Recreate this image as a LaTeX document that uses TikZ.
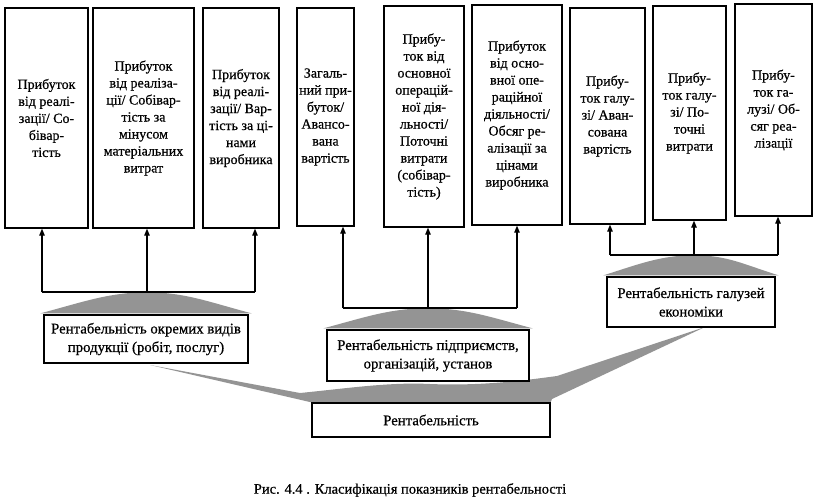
\documentclass[tikz,border=0pt]{standalone}
\usepackage{fontspec}
\setmainfont{Liberation Serif}
\newfontface\heavyface[FakeBold=0.6]{Liberation Serif}
\usetikzlibrary{arrows.meta,backgrounds}
\begin{document}
\begin{tikzpicture}[x=1pt,y=-1pt,
  tbox/.style={draw, line width=1.3pt, fill=white, inner sep=0pt, align=center,
    font=\heavyface\fontsize{14}{17}\selectfont},
  mbox/.style={draw, line width=1.3pt, fill=white, inner sep=0pt, align=center,
    font=\heavyface\fontsize{14.8}{18.5}\selectfont},
  conn/.style={line width=1.1pt},
  arr/.style={line width=1.1pt, -{Triangle[length=7pt,width=5.5pt]}},
  shadefill/.style={fill=black!42, draw=none}]
\useasboundingbox (0,0) rectangle (819,501);

% top boxes
\node[tbox, minimum width=83pt, minimum height=220pt] (b1) at (46.5,118)
  {Прибуток\\від реалі-\\зації/ Со-\\бівар-\\тість};
\node[tbox, minimum width=101pt, minimum height=220pt] (b2) at (143.5,118)
  {Прибуток\\від реаліза-\\ції/ Собівар-\\тість за\\мінусом\\матеріальних\\витрат};
\node[tbox, minimum width=76pt, minimum height=220pt] (b3) at (241,118)
  {Прибуток\\від реалі-\\зації/ Вар-\\тість за ці-\\нами\\виробника};
\node[tbox, minimum width=57pt, minimum height=218pt] (b4) at (325.5,117)
  {Загаль-\\ний при-\\буток/\\Авансо-\\вана\\вартість};
\node[tbox, minimum width=80pt, minimum height=221pt] (b5) at (424,116.5)
  {Прибу-\\ток від\\основної\\операцій-\\ної дія-\\льності/\\Поточні\\витрати\\(собівар-\\тість)};
\node[tbox, minimum width=90pt, minimum height=220pt] (b6) at (517,115)
  {Прибуток\\від осно-\\вної опе-\\раційної\\діяльності/\\Обсяг ре-\\алізації за\\цінами\\виробника};
\node[tbox, minimum width=75pt, minimum height=216pt] (b7) at (607.5,116)
  {Прибу-\\ток галу-\\зі/ Аван-\\сована\\вартість};
\node[tbox, minimum width=73pt, minimum height=214pt] (b8) at (689.5,113)
  {Прибу-\\ток галу-\\зі/ По-\\точні\\витрати};
\node[tbox, minimum width=77pt, minimum height=212pt] (b9) at (773.5,110)
  {Прибу-\\ток га-\\лузі/ Об-\\сяг реа-\\лізації};

% middle boxes
\node[mbox, minimum width=204pt, minimum height=48pt] (m1) at (146,339)
  {Рентабельність окремих видів\\продукції (робіт, послуг)};
\node[mbox, minimum width=202pt, minimum height=51pt] (m2) at (428,355.5)
  {Рентабельність підприємств,\\організацій, установ};
\node[mbox, minimum width=168pt, minimum height=50pt] (m3) at (691,302)
  {Рентабельність галузей\\економіки};
\node[mbox, minimum width=238pt, minimum height=34pt] (m0) at (431,420)
  {Рентабельність};

% junction coordinates
\coordinate (a1) at (42,292);
\coordinate (a2) at (147,292);
\coordinate (a3) at (255,292);
\coordinate (a4) at (343,308);
\coordinate (a5) at (428,308);
\coordinate (a6) at (517,308);
\coordinate (a7) at (610,255);
\coordinate (a8) at (694,255);
\coordinate (a9) at (778,255);

% connectors
\draw[conn] (a1) -- (a3);
\draw[conn] (a4) -- (a6);
\draw[conn] (a7) -- (a9);
\draw[arr] (a1) -- (a1 |- b1.south);
\draw[arr] (a2) -- (a2 |- b2.south);
\draw[arr] (a3) -- (a3 |- b3.south);
\draw[arr] (a4) -- (a4 |- b4.south);
\draw[arr] (a5) -- (a5 |- b5.south);
\draw[arr] (a6) -- (a6 |- b6.south);
\draw[arr] (a7) -- (a7 |- b7.south);
\draw[arr] (a8) -- (a8 |- b8.south);
\draw[arr] (a9) -- (a9 |- b9.south);

% shaded wedges
\begin{scope}[on background layer]
  \fill[shadefill] ([xshift=-3pt,yshift=1pt]m1.north west) .. controls +(45,-12) and +(-40,1) .. (a2)
     .. controls +(40,1) and +(-45,-12) .. ([xshift=3pt,yshift=1pt]m1.north east) -- cycle;
  \fill[shadefill] ([xshift=-3pt,yshift=1pt]m2.north west) .. controls +(45,-12) and +(-40,1) .. (a5)
     .. controls +(40,1) and +(-45,-12) .. ([xshift=3pt,yshift=1pt]m2.north east) -- cycle;
  \fill[shadefill] ([xshift=-3pt,yshift=1pt]m3.north west) .. controls +(38,-12) and +(-35,1) .. (a8)
     .. controls +(35,1) and +(-38,-12) .. ([xshift=3pt,yshift=1pt]m3.north east) -- cycle;
  \fill[shadefill] (150,365) -- (300,393)
     .. controls (350,388) and (390,382) .. (430,384)
     .. controls (480,386) and (520,381) .. (557,376)
     -- (705,327) -- (552,399) -- (m0.north east) -- (m0.north west) -- cycle;
\end{scope}

% caption
\node[font=\heavyface\fontsize{14.5}{17}\selectfont] (cap) at (410,490)
  {Рис. 4.4 . Класифікація показників рентабельності};
\end{tikzpicture}
\end{document}
